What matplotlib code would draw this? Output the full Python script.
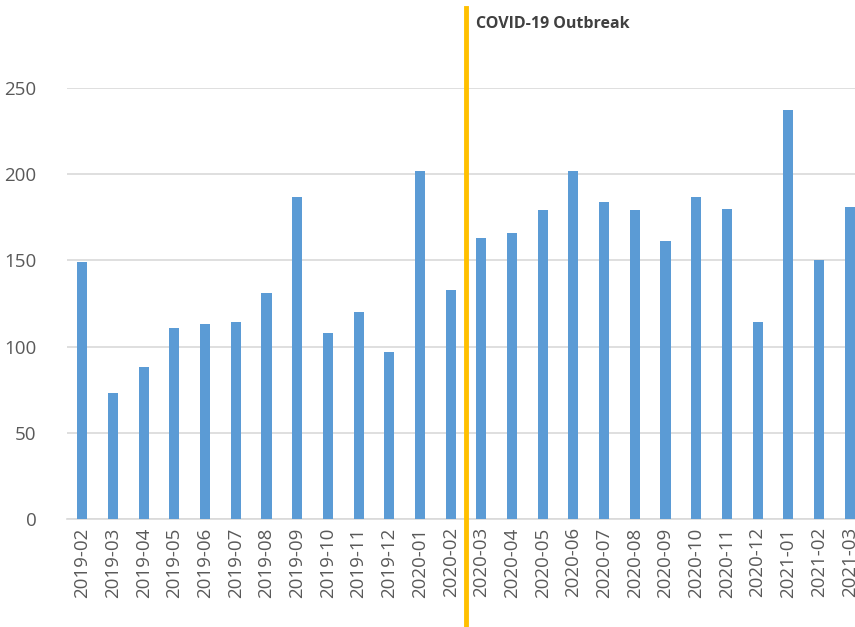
import matplotlib
matplotlib.use('Agg')
import matplotlib.pyplot as plt
import matplotlib.transforms as mtransforms

# monthly counts
months = ['2019-02', '2019-03', '2019-04', '2019-05', '2019-06', '2019-07',
          '2019-08', '2019-09', '2019-10', '2019-11', '2019-12', '2020-01',
          '2020-02', '2020-03', '2020-04', '2020-05', '2020-06', '2020-07',
          '2020-08', '2020-09', '2020-10', '2020-11', '2020-12', '2021-01',
          '2021-02', '2021-03']
counts = [149, 73, 88, 111, 113, 114, 131, 187, 108, 120, 97, 202, 133,
          163, 166, 179, 202, 184, 179, 161, 187, 180, 114, 237, 150, 181]
yticks = [0, 50, 100, 150, 200, 250]
outbreak_pos = 12.5  # between 2020-02 and 2020-03
outbreak_label = 'COVID-19 Outbreak'

plt.rcParams['font.family'] = ['Open Sans', 'DejaVu Sans']

W, H = 855, 627
fig = plt.figure(figsize=(W / 100, H / 100), dpi=100)
ax = fig.add_axes([67 / W, (H - 519) / H, (865 - 67) / W, (519 - 88) / H])

x = range(len(months))
ax.bar(x, counts, width=0.33, color='#5B9BD5', zorder=3)

ax.set_xlim(-0.5, len(months) - 0.5)
ax.set_ylim(0, 250)
ax.set_yticks(yticks)
ax.set_xticks(list(x))
ax.set_xticklabels(months, rotation=90)
ax.tick_params(axis='both', length=0, labelsize=13.5, colors='#595959')
ax.tick_params(axis='y', pad=22)
ax.tick_params(axis='x', pad=6)

ax.grid(axis='y', color='#D9D9D9', linewidth=1.2, zorder=0)
for s in ['top', 'right', 'left']:
    ax.spines[s].set_visible(False)
ax.spines['bottom'].set_color('#D9D9D9')
ax.spines['bottom'].set_linewidth(1.2)

# outbreak marker running the full height of the figure
trans = mtransforms.blended_transform_factory(ax.transData, fig.transFigure)
ax.plot([outbreak_pos, outbreak_pos], [0, (H - 8) / H], transform=trans,
        color='#FFC000', linewidth=3.5, clip_on=False, zorder=5)
ax.text(outbreak_pos + 0.33, (H - 24) / H, outbreak_label, transform=trans,
        fontsize=11.5, fontweight='bold', color='#404040', va='center',
        ha='left')

fig.savefig('out.png', dpi=100)
